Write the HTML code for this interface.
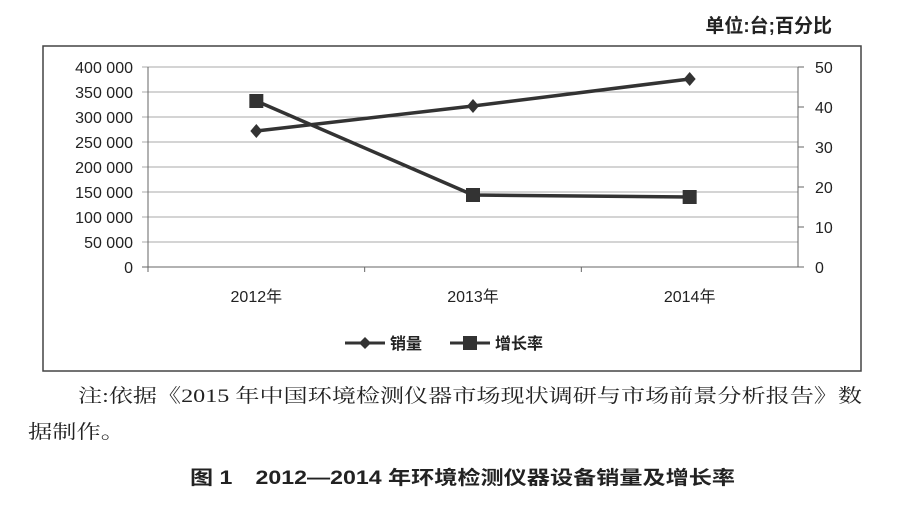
<!DOCTYPE html>
<html><head><meta charset="utf-8">
<style>
body{margin:0;width:900px;height:508px;background:#fff;overflow:hidden;font-family:"Liberation Sans","Noto Sans CJK SC",sans-serif;}
svg{position:absolute;left:0;top:0}
</style></head><body>
<svg width="900" height="508">
<text x="832" y="32" text-anchor="end" font-size="19" font-weight="bold" font-family="Liberation Sans, Noto Sans CJK SC, sans-serif" fill="#222">单位:台;百分比</text>
<rect x="43" y="46" width="818" height="325" fill="#fff" stroke="#444" stroke-width="1.5"/>
<g id="grid"></g><g id="axes"></g><g id="series"></g>
<g>
<line x1="345" y1="343" x2="385" y2="343" stroke="#333" stroke-width="3"/>
<path d="M365 337 L371 343 L365 349 L359 343 Z" fill="#333"/>
<text x="390" y="349" font-size="16" font-weight="bold" fill="#222">销量</text>
<line x1="450" y1="343" x2="490" y2="343" stroke="#333" stroke-width="3"/>
<rect x="463" y="336" width="14" height="14" fill="#333"/>
<text x="495" y="349" font-size="16" font-weight="bold" fill="#222">增长率</text>
</g>
<text x="78" y="402" font-size="19" textLength="784" lengthAdjust="spacingAndGlyphs" font-family="Liberation Serif, Noto Serif CJK SC, serif" fill="#222">注:依据《2015 年中国环境检测仪器市场现状调研与市场前景分析报告》数</text>
<text x="28" y="438" font-size="19" textLength="97" lengthAdjust="spacingAndGlyphs" font-family="Liberation Serif, Noto Serif CJK SC, serif" fill="#222">据制作。</text>
<text x="190" y="484" font-size="19" font-weight="bold" textLength="545" lengthAdjust="spacingAndGlyphs" fill="#222">图 1　2012—2014 年环境检测仪器设备销量及增长率</text>
</svg>
<script>
const categories=["2012年","2013年","2014年"];
const salesValues=[272000,322000,376000];
const growthValues=[41.5,18,17.5];
const leftTicks=["0","50 000","100 000","150 000","200 000","250 000","300 000","350 000","400 000"];
const rightTicks=["0","10","20","30","40","50"];
const NS="http://www.w3.org/2000/svg";
const X0=148,X1=798,Y0=267,Y1=67;
const xS=i=>X0+(X1-X0)/categories.length*(i+0.5);
const yL=v=>Y0-(v/400000)*(Y0-Y1);
const yR=v=>Y0-(v/50)*(Y0-Y1);
function mk(t,a,p){const e=document.createElementNS(NS,t);for(const k in a)e.setAttribute(k,a[k]);p.appendChild(e);return e;}
const grid=document.getElementById('grid'),axes=document.getElementById('axes'),ser=document.getElementById('series');
leftTicks.forEach((t,i)=>{const v=i*50000,y=yL(v);
 const l=mk('line',{x1:X0-6,x2:X1,y1:y,y2:y,stroke:i==0?'#666':'#aaa','stroke-width':1},grid);
 
 
 const tx=mk('text',{x:133,y:y+6,'text-anchor':'end','font-size':16,fill:'#222'},axes);tx.textContent=t;
 
 
});
rightTicks.forEach((t,i)=>{const y=yR(i*10);
 mk('line',{x1:X1,x2:X1+6,y1:y,y2:y,stroke:'#666'},axes);
 const tx=mk('text',{x:815,y:y+6,'font-size':16,fill:'#222'},axes);tx.textContent=t;
 
 
});
mk('line',{x1:X0,x2:X0,y1:Y1,y2:Y0,stroke:'#666'},axes);
mk('line',{x1:X1,x2:X1,y1:Y1,y2:Y0,stroke:'#666'},axes);
categories.forEach((c,i)=>{const tx=mk('text',{x:xS(i),y:302,'text-anchor':'middle','font-size':16,fill:'#222'},axes);tx.textContent=c;
 
 
 mk('line',{x1:X0+(X1-X0)/3*i,x2:X0+(X1-X0)/3*i,y1:Y0,y2:Y0+5,stroke:'#666'},axes);
});
const sl=mk('polyline',{points:salesValues.map((v,i)=>xS(i)+','+yL(v)).join(' '),fill:'none',stroke:'#333','stroke-width':3.5},ser);


const gl=mk('polyline',{points:growthValues.map((v,i)=>xS(i)+','+yR(v)).join(' '),fill:'none',stroke:'#333','stroke-width':3.5},ser);


salesValues.forEach((v,i)=>{const x=xS(i),y=yL(v);
 const p=mk('path',{d:`M${x} ${y-7}L${x+6} ${y}L${x} ${y+7}L${x-6} ${y}Z`,fill:'#333'},ser);
 
 
});
growthValues.forEach((v,i)=>{const x=xS(i),y=yR(v);
 const r=mk('rect',{x:x-7,y:y-7,width:14,height:14,fill:'#333'},ser);
 
 
});
</script>
</body></html>
